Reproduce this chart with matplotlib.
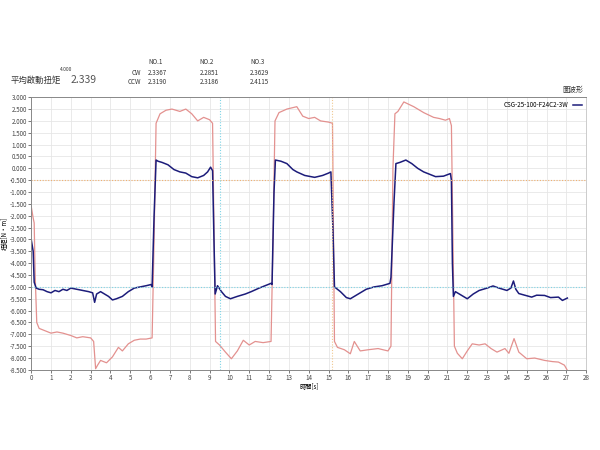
import matplotlib
matplotlib.use("Agg")
import matplotlib.pyplot as plt
from matplotlib.ticker import MultipleLocator, FormatStrFormatter

plt.rcParams["font.family"] = ["Noto Sans CJK TC", "DejaVu Sans"]

# blue trace (average torque)
blue_t = [0.0, 0.1, 0.15, 0.25, 0.4, 0.6, 0.8, 1.0, 1.2, 1.4, 1.6, 1.8, 2.0, 2.3, 2.6, 2.9,
          3.1, 3.2, 3.3, 3.5, 3.7, 3.9, 4.1, 4.3, 4.6, 4.9, 5.2, 5.5, 5.8, 6.05, 6.1, 6.2,
          6.3, 6.4, 6.6, 6.9, 7.2, 7.5, 7.8, 8.1, 8.4, 8.7, 8.9, 9.05, 9.15, 9.22, 9.28,
          9.4, 9.6, 9.8, 10.05, 10.4, 10.8, 11.1, 11.5, 11.8, 12.1, 12.15, 12.25, 12.32,
          12.6, 12.9, 13.2, 13.4, 13.8, 14.3, 14.7, 15.0, 15.12, 15.22, 15.3, 15.6, 15.9,
          16.1, 16.5, 16.9, 17.3, 17.7, 18.1, 18.15, 18.3, 18.4, 18.6, 18.9, 19.2, 19.5,
          19.8, 20.1, 20.4, 20.8, 21.15, 21.2, 21.25, 21.3, 21.4, 21.7, 22.0, 22.3, 22.6,
          23.0, 23.3, 23.6, 24.0, 24.2, 24.33, 24.45, 24.6, 24.9, 25.25, 25.5, 25.9, 26.2,
          26.6, 26.8, 27.05]
blue_v = [-3.0, -3.5, -4.8, -5.05, -5.1, -5.12, -5.2, -5.25, -5.15, -5.2, -5.1, -5.15, -5.05,
          -5.1, -5.15, -5.2, -5.25, -5.65, -5.3, -5.2, -5.3, -5.4, -5.55, -5.5, -5.4, -5.2,
          -5.05, -5.0, -4.95, -4.9, -5.0, -2.0, 0.35, 0.3, 0.25, 0.15, -0.05, -0.15, -0.2,
          -0.35, -0.4, -0.3, -0.15, 0.05, -0.1, -3.0, -5.3, -4.95, -5.2, -5.4, -5.5, -5.4,
          -5.3, -5.2, -5.05, -4.95, -4.85, -4.9, -1.0, 0.35, 0.3, 0.2, -0.05, -0.15, -0.3,
          -0.38, -0.3, -0.2, -0.15, -2.5, -5.0, -5.2, -5.45, -5.5, -5.3, -5.1, -5.0, -4.95,
          -4.85, -4.6, -1.5, 0.2, 0.25, 0.35, 0.2, 0.0, -0.15, -0.25, -0.35, -0.33, -0.22,
          -0.5, -4.0, -5.4, -5.2, -5.35, -5.5, -5.3, -5.15, -5.05, -4.96, -5.05, -5.15,
          -5.05, -4.75, -5.1, -5.28, -5.35, -5.43, -5.35, -5.36, -5.45, -5.43, -5.57, -5.47]

# red trace (peak torque)
red_t = [0.0, 0.1, 0.15, 0.2, 0.28, 0.4, 0.7, 1.0, 1.3, 1.6, 2.0, 2.3, 2.6, 3.0, 3.15, 3.25,
         3.35, 3.5, 3.8, 4.1, 4.4, 4.6, 4.9, 5.2, 5.5, 5.8, 6.1, 6.2, 6.3, 6.5, 6.8, 7.1,
         7.5, 7.8, 8.1, 8.4, 8.7, 9.0, 9.15, 9.3, 9.5, 9.8, 10.1, 10.4, 10.7, 11.0, 11.3,
         11.7, 12.1, 12.2, 12.3, 12.5, 12.9, 13.4, 13.7, 14.0, 14.3, 14.6, 15.0, 15.2, 15.3,
         15.45, 15.8, 16.1, 16.3, 16.6, 17.0, 17.5, 18.0, 18.15, 18.25, 18.35, 18.5, 18.8,
         19.3, 19.8, 20.3, 20.6, 20.9, 21.1, 21.2, 21.35, 21.5, 21.75, 22.0, 22.25, 22.6,
         22.9, 23.2, 23.5, 23.9, 24.1, 24.36, 24.6, 25.0, 25.4, 25.9, 26.3, 26.6, 26.9, 27.05]
red_v = [-1.6, -2.1, -2.3, -4.5, -6.5, -6.75, -6.85, -6.95, -6.9, -6.95, -7.05, -7.15, -7.1,
         -7.15, -7.3, -8.45, -8.3, -8.1, -8.2, -7.95, -7.55, -7.7, -7.4, -7.25, -7.2, -7.2,
         -7.15, -3.0, 1.9, 2.3, 2.45, 2.5, 2.4, 2.5, 2.3, 2.0, 2.15, 2.05, 1.9, -7.3, -7.45,
         -7.75, -8.03, -7.7, -7.25, -7.45, -7.3, -7.35, -7.3, -3.0, 2.0, 2.35, 2.5, 2.6, 2.2,
         2.1, 2.15, 2.0, 1.95, 1.9, -7.3, -7.55, -7.65, -7.82, -7.3, -7.7, -7.65, -7.6, -7.7,
         -7.5, 0.0, 2.3, 2.4, 2.8, 2.6, 2.35, 2.15, 2.1, 2.03, 2.1, 1.8, -7.5, -7.8, -8.03,
         -7.7, -7.4, -7.45, -7.4, -7.6, -7.75, -7.6, -7.8, -7.18, -7.75, -8.03, -8.0, -8.1,
         -8.15, -8.17, -8.3, -8.52]

cursor_h = [-0.5, -5.0]
cursor_v = [9.5, 15.2]

header_cols = ["NO.1", "NO.2", "NO.3"]
cw_vals = ["2.3367", "2.2851", "2.3629"]
ccw_vals = ["2.3190", "2.3186", "2.4115"]

fig = plt.figure(figsize=(6, 4.5), dpi=100)
ax = fig.add_axes([0.052, 0.178, 0.925, 0.606])

ax.plot(red_t, red_v, color="#e3918f", lw=0.9)
ax.plot(blue_t, blue_v, color="#1c1c7a", lw=1.1, label="CSG-25-100-F24C2-3W")

ax.axhline(cursor_h[0], color="#f0b070", lw=0.8, ls=(0, (1, 1.5)))
ax.axhline(cursor_h[1], color="#7fd4e6", lw=0.8, ls=(0, (1, 1.5)))
ax.axvline(cursor_v[0], color="#7fd4e6", lw=0.8, ls=(0, (1, 1.5)))
ax.axvline(cursor_v[1], color="#f0c890", lw=0.8, ls=(0, (1, 1.5)))

ax.set_xlim(0, 28)
ax.set_ylim(-8.5, 3.0)
ax.xaxis.set_major_locator(MultipleLocator(1))
ax.yaxis.set_major_locator(MultipleLocator(0.5))
ax.yaxis.set_major_formatter(FormatStrFormatter("%.3f"))
ax.grid(True, color="#e6e6e6", lw=0.6)
ax.tick_params(labelsize=4.5, length=2, width=0.5, colors="#444444", pad=1)
for s in ax.spines.values():
    s.set_color("#888888")
    s.set_linewidth(0.7)
ax.spines["right"].set_color("#cccccc")

ax.set_xlabel("時間[s]", fontsize=4.5, labelpad=1)
ax.set_ylabel("扭矩[N•m]", fontsize=4.5, labelpad=1)

ax.legend(loc="upper right", fontsize=4.5, frameon=False, handlelength=1.5,
          markerfirst=False, borderaxespad=0.2)

# header texts
fig.text(0.017, 0.815, "平均啟動扭矩", fontsize=6, color="#333333")
fig.text(0.117, 0.815, "2.339", fontsize=7.5, color="#555555")
fig.text(0.1, 0.843, "4.000", fontsize=3.5, style="italic", color="#333333")
col_x = [0.247, 0.333, 0.417]
for i, name in enumerate(header_cols):
    fig.text(col_x[i], 0.857, name, fontsize=4.5, color="#333333")
    fig.text(col_x[i], 0.834, cw_vals[i], fontsize=4.5, color="#333333")
    fig.text(col_x[i], 0.814, ccw_vals[i], fontsize=4.5, color="#333333")
fig.text(0.22, 0.834, "CW", fontsize=4.5, color="#333333")
fig.text(0.213, 0.814, "CCW", fontsize=4.5, color="#333333")
fig.text(0.938, 0.795, "圖波形", fontsize=5, color="#333333")

fig.savefig("out.png", dpi=100)
